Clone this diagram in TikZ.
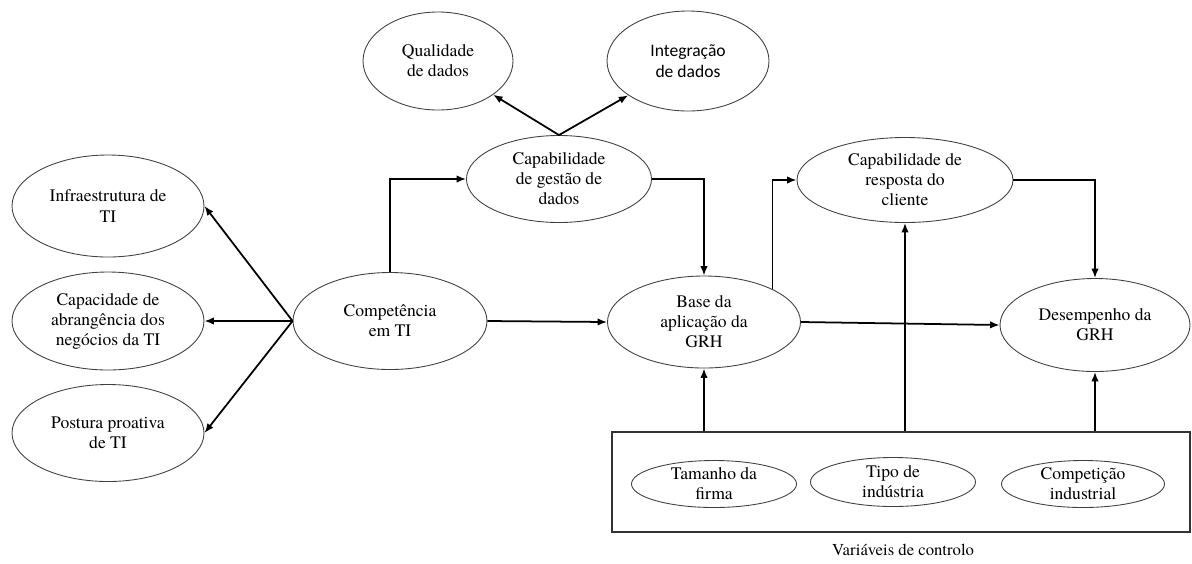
\documentclass[tikz,border=0pt]{standalone}
\usepackage{fontspec}
\setmainfont{TeX Gyre Termes}
\newfontfamily\timesfont{TeX Gyre Termes}
\newfontfamily\calibri{Carlito}
\usetikzlibrary{arrows.meta,positioning,shapes.geometric}

\begin{document}
\begin{tikzpicture}[
    x=0.2mm, y=-0.2mm,
    bubble/.style={ellipse,draw=black!75,line width=0.5pt,inner sep=0pt,align=center,font=\timesfont\fontsize{10}{11.4}\selectfont},
    ctrlvar/.style={bubble,inner ysep=-3pt,minimum width=33mm,minimum height=9.4mm},
    arrow/.style={-{Latex[length=1.9mm,width=1.5mm]},line width=1pt}
]
\useasboundingbox (0,0) rectangle (1192,563);

% Constructs
\node[bubble,minimum width=30mm,minimum height=19.6mm] (qual) at (438,61) {Qualidade\\de dados};
\node[bubble,minimum width=32.4mm,minimum height=20mm,font=\calibri\fontsize{10}{11.6}\selectfont] (integ) at (688,61) {Integração\\de dados};
\node[bubble,minimum width=37mm,minimum height=17.4mm] (gestao) at (559,179) {Capabilidade\\de gestão de\\dados};
\node[bubble,minimum width=38.4mm,minimum height=20.4mm] (infra) at (108,206) {Infraestrutura de\\TI};
\node[bubble,minimum width=38.4mm,minimum height=19.6mm] (abrang) at (108,321) {Capacidade de\\abrangência dos\\negócios da TI};
\node[bubble,minimum width=38.4mm,minimum height=19.4mm] (postura) at (108,433) {Postura proativa\\de TI};
\node[bubble,minimum width=38.8mm,minimum height=19.4mm] (compet) at (390,321) {Competência\\em TI};
\node[bubble,minimum width=38.6mm,minimum height=18.4mm] (base) at (704,322) {Base da\\aplicação da\\GRH};
\node[bubble,minimum width=43.2mm,minimum height=17mm] (resposta) at (905,180) {Capabilidade de\\resposta do\\cliente};
\node[bubble,minimum width=38mm,minimum height=18.6mm] (desemp) at (1095,325) {Desempenho da\\GRH};

% Control variables
\node[draw=black!80,line width=0.6pt,minimum width=115.6mm,minimum height=20mm,inner sep=0pt] (ctrl) at (901,482) {};
\node[ctrlvar] (tamanho) at (714,484) {Tamanho da\\firma};
\node[ctrlvar,minimum height=9.8mm] (tipo) at (893,482) {Tipo de\\indústria};
\node[ctrlvar,minimum width=32.6mm] (competicao) at (1083,484) {Competição\\industrial};
\node[font=\timesfont\fontsize{9.5}{11}\selectfont] (ctrllabel) at (903,550) {Variáveis de controlo};

% Arrows
\draw[arrow] (gestao.north) -- (qual);
\draw[arrow] (gestao.north) -- (integ);
\draw[arrow] (compet.west) -- (infra.east);
\draw[arrow] (compet.west) -- (abrang.east);
\draw[arrow] (compet.west) -- (postura.east);
\draw[arrow] (compet.north) |- (gestao.west);
\draw[arrow] (compet.east) -- (base.west);
\draw[arrow] (gestao.east) -| (base.north);
\draw[arrow] (base.north east) |- (resposta.west);
\draw[arrow] (base.east) -- (desemp.west);
\draw[arrow] (resposta.east) -| (desemp.north);
\draw[arrow] (base.south |- ctrl.north) -- (base.south);
\draw[arrow] (resposta.south |- ctrl.north) -- (resposta.south);
\draw[arrow] (desemp.south |- ctrl.north) -- (desemp.south);

\end{tikzpicture}
\end{document}
